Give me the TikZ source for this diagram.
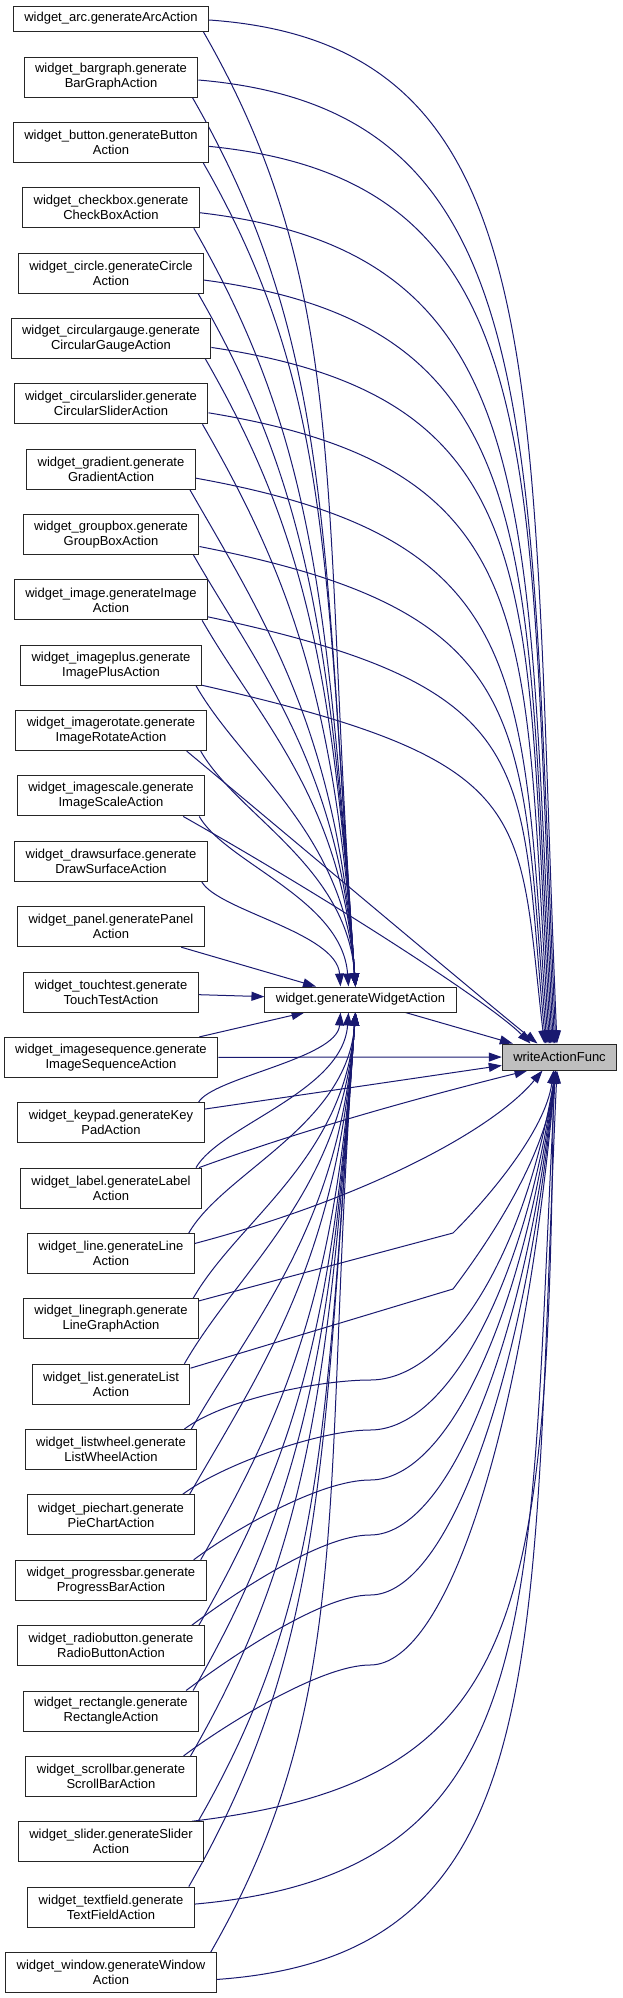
\documentclass[tikz,border=0pt]{standalone}
\usepackage{fontspec}
\setmainfont{Liberation Sans}
\usetikzlibrary{arrows.meta}
\definecolor{edgeblue}{HTML}{191970}
\definecolor{rootfill}{HTML}{BFBFBF}
\pgfdeclarelayer{bg}
\pgfsetlayers{bg,main}
\tikzset{
  box/.style={draw=black!85, line width=1pt, fill=white, align=center,
    inner xsep=11pt, inner ysep=0pt, minimum height=40pt,
    font=\fontsize{13}{15}\selectfont},
  edge/.style={draw=edgeblue, line width=1pt, -{Triangle[length=13pt,width=9pt]}},
}
\begin{document}
\begin{tikzpicture}[x=1pt,y=-1pt]
\useasboundingbox (0,0) rectangle (623,1998);
\node[box, minimum height=25pt] (n0) at (111,18.5) {widget\_arc.generateArcAction};
\node[box] (n1) at (111,77) {widget\_bargraph.generate\\BarGraphAction};
\node[box] (n2) at (111,142.36) {widget\_button.generateButton\\Action};
\node[box] (n3) at (111,207.72) {widget\_checkbox.generate\\CheckBoxAction};
\node[box] (n4) at (111,273.08) {widget\_circle.generateCircle\\Action};
\node[box] (n5) at (111,338.44) {widget\_circulargauge.generate\\CircularGaugeAction};
\node[box] (n6) at (111,403.8) {widget\_circularslider.generate\\CircularSliderAction};
\node[box] (n7) at (111,469.16) {widget\_gradient.generate\\GradientAction};
\node[box] (n8) at (111,534.52) {widget\_groupbox.generate\\GroupBoxAction};
\node[box] (n9) at (111,599.88) {widget\_image.generateImage\\Action};
\node[box] (n10) at (111,665.24) {widget\_imageplus.generate\\ImagePlusAction};
\node[box] (n11) at (111,730.6) {widget\_imagerotate.generate\\ImageRotateAction};
\node[box] (n12) at (111,795.96) {widget\_imagescale.generate\\ImageScaleAction};
\node[box] (n13) at (111,861.32) {widget\_drawsurface.generate\\DrawSurfaceAction};
\node[box] (n14) at (111,926.68) {widget\_panel.generatePanel\\Action};
\node[box] (n15) at (111,992.04) {widget\_touchtest.generate\\TouchTestAction};
\node[box] (n16) at (111,1057.4) {widget\_imagesequence.generate\\ImageSequenceAction};
\node[box] (n17) at (111,1122.76) {widget\_keypad.generateKey\\PadAction};
\node[box] (n18) at (111,1188.12) {widget\_label.generateLabel\\Action};
\node[box] (n19) at (111,1253.48) {widget\_line.generateLine\\Action};
\node[box] (n20) at (111,1318.84) {widget\_linegraph.generate\\LineGraphAction};
\node[box] (n21) at (111,1384.2) {widget\_list.generateList\\Action};
\node[box] (n22) at (111,1449.56) {widget\_listwheel.generate\\ListWheelAction};
\node[box] (n23) at (111,1514.92) {widget\_piechart.generate\\PieChartAction};
\node[box] (n24) at (111,1580.28) {widget\_progressbar.generate\\ProgressBarAction};
\node[box] (n25) at (111,1645.64) {widget\_radiobutton.generate\\RadioButtonAction};
\node[box] (n26) at (111,1711) {widget\_rectangle.generate\\RectangleAction};
\node[box] (n27) at (111,1776.36) {widget\_scrollbar.generate\\ScrollBarAction};
\node[box] (n28) at (111,1841.72) {widget\_slider.generateSlider\\Action};
\node[box] (n29) at (111,1907.08) {widget\_textfield.generate\\TextFieldAction};
\node[box] (n30) at (111,1972.44) {widget\_window.generateWindow\\Action};
\node[box, minimum height=25pt] (w) at (360.5,999.5) {widget.generateWidgetAction};
\node[box, minimum height=26pt, fill=rootfill] (wr) at (559.5,1057) {writeActionFunc};
\coordinate (k20) at (453,1233);
\coordinate (k21) at (453,1289);
\begin{pgfonlayer}{bg}
% upper nodes -> writeActionFunc
\foreach \i/\s in {0/1.5,1/3,2/4,3/5,4/7,5/9,6/9,7/9,8/12,9/17,10/20}{
  \pgfmathsetmacro\yc{\i==0 ? 18.5 : 77+(\i-1)*65.36}
  \pgfmathsetmacro\ff{(1044-\yc)/1026}
  \pgfmathsetmacro\ex{557-20*(1-\ff)}
  \pgfmathsetmacro\ddx{\ex-207}
  \pgfmathsetmacro\ddy{1044-\yc-\s}
  \pgfmathsetmacro\ca{\ddx}
  \pgfmathsetmacro\cb{\ddx*(0.07+0.25*(1-\ff))}
  \pgfmathsetmacro\cc{-0.08*\ddx}
  \pgfmathsetmacro\cd{-0.65*\ddy}
  \pgfmathsetmacro\sh{\ex-559.5}
  \draw[edge] ([yshift=-\s pt]n\i.east) .. controls +(\ca,\cb) and +(\cc,\cd) .. ([xshift=\sh pt]wr.north);
}
\draw[edge] ([xshift=-20pt]n11.south east) .. controls +(120,100) and +(-50,-40) .. ([xshift=-22pt]wr.north);
\draw[edge] ([xshift=-22pt]n12.south east) .. controls +(150,85) and +(-40,-40) .. ([xshift=-29pt]wr.north);
% upper nodes -> widget.generateWidgetAction
\foreach \i/\es in {0/-5,1/-5,2/-5,3/-5,4/-5,5/-5,6/-5,7/-5,8/-5,9/-5,10/-5,11/-5,12/-12,13/-20}{
  \pgfmathsetmacro\yb{\i==0 ? 31 : 97+(\i-1)*65.36}
  \pgfmathsetmacro\ddy{987-\yb}
  \draw[edge] ([xshift=-6pt]n\i.south east) .. controls +({0.157*\ddy},{0.273*\ddy}) and +({-0.037*\ddy},{-0.51*\ddy}) .. ([xshift=\es pt]w.north);
}
\draw[edge] (n14) -- (w);
\draw[edge] (n15) -- (w);
\draw[edge] (n16) -- (w);
% lower nodes -> widget.generateWidgetAction
\foreach \i/\es in {17/-20,18/-12,19/-5,20/-5,21/-5,22/-5,23/-5,24/-5,25/-5,26/-5,27/-5,28/-5,29/-5,30/-5}{
  \pgfmathsetmacro\ddy{77+(\i-1)*65.36-20-1012}
  \draw[edge] ([xshift=-6pt]n\i.north east) .. controls +({0.157*\ddy},{-0.273*\ddy}) and +({-0.037*\ddy},{0.51*\ddy}) .. ([xshift=\es pt]w.south);
}
% widget -> writeActionFunc
\draw[edge] (w) -- (wr);
% lower nodes -> writeActionFunc
\draw[edge] (n16) -- (wr);
\draw[edge] (n17) -- (wr);
\draw[edge] ([xshift=-3pt]n18.north east) .. controls +(110,-40) and +(-100,25) .. ([xshift=-32pt]wr.south);
\draw[edge] ([yshift=10pt]n19.east) .. controls +(170,-45) and +(-50,60) .. ([xshift=-17pt]wr.south);
\draw[edge] ([yshift=18pt]n20.east) -- (k20) .. controls +(35,-35) and +(-8,60) .. ([xshift=-6pt]wr.south);
\draw[edge] ([yshift=16pt]n21.east) -- (k21) .. controls +(30,-40) and +(-10,90) .. ([xshift=-4pt]wr.south);
\foreach \i/\sy in {22/1380,23/1430,24/1480,25/1535,26/1595,27/1665}{
  \pgfmathsetmacro\cd{0.58*(\sy-1070)}
  \draw[edge] ([xshift=-13pt]n\i.north east) .. controls +(40,-30) and +(-50,0) .. (370,\sy) .. controls +(80,0) and +(-30,\cd) .. ([xshift=-4pt]wr.south);
}
\draw[edge] ([xshift=-12pt]n28.north east) .. controls +(330,-40) and +(-5,560) .. ([xshift=-6pt]wr.south);
\draw[edge] ([yshift=3pt]n29.east) .. controls +(360,-32) and +(-29,542) .. ([xshift=-4pt]wr.south);
\draw[edge] ([yshift=-7pt]n30.east) .. controls +(341,-24) and +(-27,591) .. ([xshift=-2.5pt]wr.south);
\end{pgfonlayer}
\end{tikzpicture}
\end{document}
